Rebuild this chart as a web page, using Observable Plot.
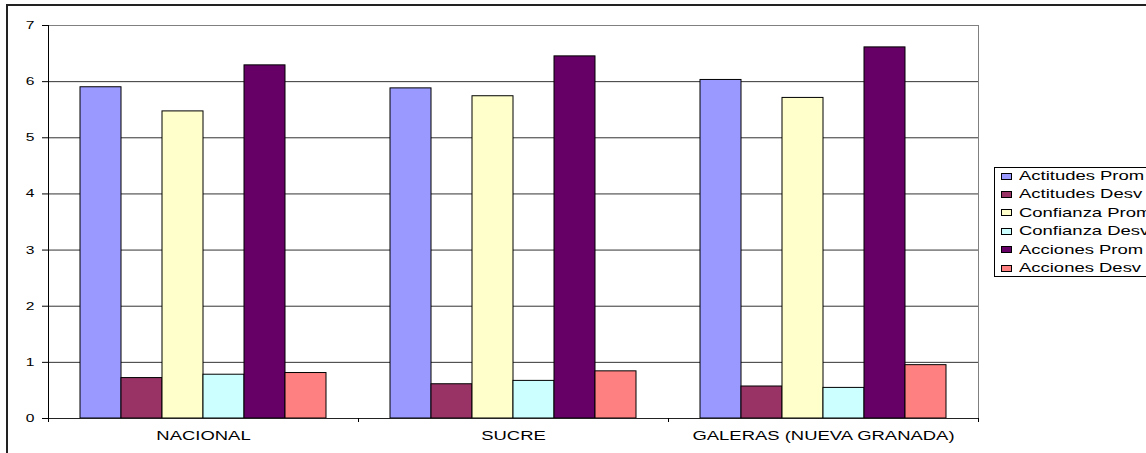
<!DOCTYPE html>
<html><head><meta charset="utf-8">
<script src="https://cdn.jsdelivr.net/npm/d3@7"></script>
<script src="https://cdn.jsdelivr.net/npm/@observablehq/plot@0.6"></script>
<style>
html,body{margin:0;padding:0;background:#fff;overflow:hidden;width:1146px;height:453px}
#wrap{position:relative;width:1146px;height:453px;font-family:"Liberation Sans",Arial,sans-serif;overflow:hidden}
#outer{position:absolute;left:6px;top:4px;width:1300px;height:600px;border:2px solid #222;box-sizing:border-box}
#chart{position:absolute;left:0;top:0}
#legend{position:absolute;left:994px;top:167px;width:220px;height:110px;border:1px solid #000;background:#fff;box-sizing:border-box}
.row{position:absolute;left:6px;height:14px;display:flex;align-items:center}
.sw{width:11px;height:7px;border:1px solid #000;box-sizing:border-box;flex:none}
.lab{font-size:13px;transform:scaleX(1.42);transform-origin:left center;margin-left:7px;white-space:nowrap;color:#000;line-height:14px}
</style></head>
<body>
<div id="wrap"><div id="outer"></div><div id="chart"></div><div id="legend"></div></div>
<script>
const categories = ["NACIONAL", "SUCRE", "GALERAS (NUEVA GRANADA)"];
const series = ["Actitudes Prom", "Actitudes Desv", "Confianza Prom", "Confianza Desv", "Acciones Prom", "Acciones Desv"];
const actitudesProm = [5.90, 5.88, 6.03];
const actitudesDesv = [0.72, 0.61, 0.57];
const confianzaProm = [5.47, 5.74, 5.71];
const confianzaDesv = [0.78, 0.67, 0.545];
const accionesProm = [6.29, 6.45, 6.61];
const accionesDesv = [0.81, 0.84, 0.95];
const colors = ["#9999FF", "#993366", "#FFFFCC", "#CCFFFF", "#660066", "#FF8080"];
const yTicks = [0, 1, 2, 3, 4, 5, 6, 7];

const seriesValues = [actitudesProm, actitudesDesv, confianzaProm, confianzaDesv, accionesProm, accionesDesv];
const data = categories.flatMap((c, i) => series.map((s, j) => ({category: c, series: s, value: seriesValues[j][i]})));

const boundaryTicks = Plot.ruleY([0], {
  stroke: "#000",
  render: (index, scales) => {
    const [a, b] = scales.x.range();
    const y0 = scales.y(0);
    const g = d3.create("svg:g").attr("stroke", "#000").attr("stroke-width", 1);
    for (const xx of [a, b]) {
      g.append("line").attr("x1", Math.round(xx) + 0.5).attr("x2", Math.round(xx) + 0.5)
        .attr("y1", y0).attr("y2", y0 + 4);
    }
    return g.node();
  }
});

const plot = Plot.plot({
  width: 1146, height: 453,
  marginTop: 25, marginBottom: 35, marginLeft: 48, marginRight: 168,
  style: {fontFamily: "'Liberation Sans', Arial, sans-serif", fontSize: "11px", color: "#000", background: "transparent", overflow: "visible"},
  fx: {domain: categories, padding: 0, label: null},
  x: {domain: series, paddingInner: 0, paddingOuter: 0.735, axis: null},
  y: {domain: [0, 7], label: null},
  color: {domain: series, range: colors},
  marks: [
    Plot.ruleY(yTicks.slice(1, 7), {stroke: "#333"}),
    Plot.frame({anchor: "top", stroke: "#808080"}),
    Plot.frame({anchor: "right", stroke: "#808080", facetAnchor: "right"}),
    Plot.barY(data, {fx: "category", x: "series", y: "value", fill: "series", stroke: "#000", strokeWidth: 1}),
    Plot.ruleY([0], {stroke: "#222"}),
    Plot.frame({anchor: "left", stroke: "#000", facetAnchor: "left"}),
    boundaryTicks,
    Plot.axisY({ticks: yTicks, tickSize: 6, tickPadding: 8, fontSize: 11, label: null, tickFormat: d => String(d), stroke: "#000"}),
    Plot.axisFx({anchor: "bottom", tickSize: 0, tickPadding: 12, fontSize: 13, label: null})
  ]
});

plot.querySelectorAll("text").forEach(t => {
  let tr = t.getAttribute("transform") || "";
  const x = t.getAttribute("x");
  if (x !== null && !isNaN(+x)) { tr += ` translate(${+x},0)`; t.removeAttribute("x"); }
  t.setAttribute("transform", tr + " scale(1.42,1)");
});

document.getElementById("chart").appendChild(plot);

const legend = document.getElementById("legend");
series.forEach((s, i) => {
  const row = document.createElement("div");
  row.className = "row";
  row.style.top = (8 + 18.4 * i - 7) + "px";
  const sw = document.createElement("div");
  sw.className = "sw";
  sw.style.background = colors[i];
  const lab = document.createElement("span");
  lab.className = "lab";
  lab.textContent = s;
  row.appendChild(sw); row.appendChild(lab);
  legend.appendChild(row);
});
</script>
</body></html>
